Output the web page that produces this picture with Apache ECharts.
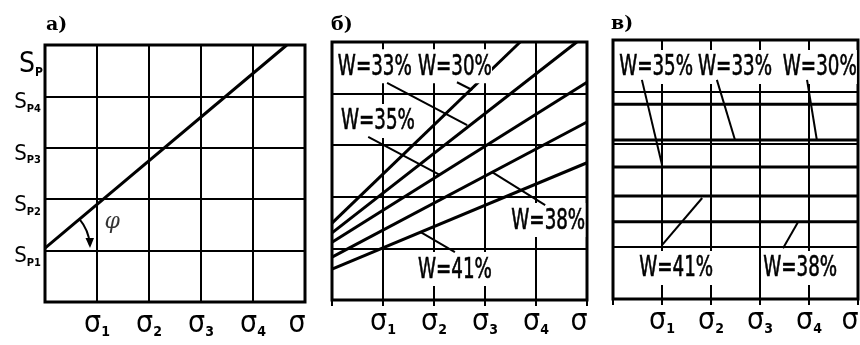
<!DOCTYPE html>
<html><head><meta charset="utf-8">
<script src="https://cdn.jsdelivr.net/npm/echarts@6/dist/echarts.min.js"></script>
<style>html,body{margin:0;padding:0;background:#fff}#c{width:860px;height:345px}</style>
</head><body><div id="c"></div>
<script>
// ---- data ----
const sigmaSubs = ['1', '2', '3', '4'];          // x tick subscripts (σ1..σ4), last tick is plain σ
const spSubs = ['P1', 'P2', 'P3', 'P4'];         // y tick subscripts (S_P1..S_P4)
// panel a: single line S_P(σ)
const aLine = [[0, 1.05], [4.65, 5]];
const aPhiPos = [1.29, 1.56];
// panel б: five moisture lines
const bW30 = [[0, 1.49], [3.69, 5]];
const bW33 = [[0, 1.30], [4.80, 5]];
const bW35 = [[0, 1.12], [5, 4.22]];
const bW38 = [[0, 0.83], [5, 3.45]];
const bW41 = [[0, 0.60], [5, 2.66]];
const bLabelNames = ['W=33%', 'W=30%', 'W=35%', 'W=38%', 'W=41%'];
const bLabelPos = [[0.84, 4.53], [2.41, 4.53], [0.90, 3.47], [4.24, 1.55], [2.41, 0.60]];
const bLeaders = [[[1.08, 4.21], [2.65, 3.39]], [[2.45, 4.22], [2.75, 4.07]], [[0.71, 3.16], [2.12, 2.42]], [[3.14, 2.48], [4.18, 1.84]], [[1.73, 1.32], [2.41, 0.93]]];
// panel в: horizontal levels
const cW30 = 3.76, cW33 = 3.07, cW35 = 2.55, cW41 = 1.99, cW38 = 1.49;
const cLabelNames = ['W=35%', 'W=33%', 'W=30%', 'W=41%', 'W=38%'];
const cLabelPos = [[0.88, 4.48], [2.49, 4.48], [4.22, 4.48], [1.29, 0.60], [3.82, 0.60]];
const cLeaders = [[[0.59, 4.23], [1.0, 2.59]], [[2.12, 4.23], [2.49, 3.07]], [[3.96, 4.23], [4.16, 3.07]], [[1.0, 1.04], [1.82, 1.95]], [[3.47, 0.98], [3.78, 1.49]]];

// ---- styles ----
const HAND = "'DejaVu Sans Condensed','Liberation Sans',sans-serif";
const sigRich = {
  s: {fontSize: 30, fontFamily: HAND, color: '#000', lineHeight: 30},
  sub: {fontSize: 14, fontFamily: HAND, color: '#000', verticalAlign: 'bottom', lineHeight: 22, fontWeight: 'bold'},
  e: {fontSize: 30, fontFamily: HAND, color: '#000', lineHeight: 30, padding: [0, 16, 0, 0]}
};
const spRich = {
  s: {fontSize: 22, fontFamily: HAND, color: '#000', lineHeight: 24},
  sub: {fontSize: 11, fontFamily: HAND, color: '#000', verticalAlign: 'bottom', lineHeight: 18, fontWeight: 'bold'},
  S: {fontSize: 28, fontFamily: HAND, color: '#000', lineHeight: 28},
  SUB: {fontSize: 12, fontFamily: HAND, color: '#000', verticalAlign: 'bottom', lineHeight: 20, fontWeight: 'bold'}
};
function xFmt(v) {
  const i = Math.round(v);
  if (i >= 1 && i <= sigmaSubs.length) return '{s|σ}{sub|' + sigmaSubs[i - 1] + '}';
  if (i === 5) return '{e|σ}';
  return '';
}
function yFmt(v) {
  const i = Math.round(v);
  if (i >= 1 && i <= spSubs.length) return '{s|S}{sub|' + spSubs[i - 1] + '}';
  return '';
}
const gridLine = {show: true, lineStyle: {color: '#000', width: 2, type: 'solid'}};
function xAxis(gi, ticks) {
  return {type: 'value', gridIndex: gi, min: 0, max: 5, interval: 1,
    axisLine: {show: false}, splitLine: gridLine,
    axisTick: {show: ticks, length: 6, inside: false, lineStyle: {color: '#000', width: 2}},
    axisLabel: {show: true, formatter: xFmt, rich: sigRich, margin: 7, showMinLabel: true, showMaxLabel: true}};
}
function yAxis(gi, labels) {
  const ax = {type: 'value', gridIndex: gi, min: 0, max: 5, interval: 1,
    axisLine: {show: false}, axisTick: {show: false}, splitLine: gridLine,
    axisLabel: {show: labels, formatter: yFmt, rich: spRich, margin: 4, padding: [12, 0, 0, 0]}};
  if (labels) {
    ax.name = '{S|S}{SUB|P}';
    ax.nameLocation = 'end';
    ax.nameGap = -34;
    ax.nameTextStyle = {rich: spRich, align: 'right', padding: [0, 2, 0, 0]};
  }
  return ax;
}
const lineS = (gi, data, w) => ({type: 'line', xAxisIndex: gi, yAxisIndex: gi, data: data,
  showSymbol: false, symbol: 'none', lineStyle: {color: '#000', width: w || 3}, z: 5, animation: false});
const hLine = (gi, v) => lineS(gi, [[0, v], [5, v]], 3);
// handwritten-looking labels: tall, horizontally compressed text on a white patch
const labelS = (gi, names, pos) => ({type: 'custom', xAxisIndex: gi, yAxisIndex: gi, z: 10, animation: false,
  data: pos.map((p, i) => [p[0], p[1], i]),
  renderItem: function (params, api) {
    const p = api.coord([api.value(0), api.value(1)]);
    const txt = names[api.value(2)];
    return {type: 'group', x: p[0], y: p[1], scaleX: 0.7, children: [
      {type: 'rect', shape: {x: -53, y: -17, width: 106, height: 34}, style: {fill: '#fff'}},
      {type: 'text', style: {text: txt, x: 0, y: 1, align: 'center', verticalAlign: 'middle',
        font: 'normal 29px ' + HAND, fill: '#000', stroke: '#000', lineWidth: 0.6}}
    ]};
  }});
const leaderS = (gi, segs) => ({type: 'lines', coordinateSystem: 'cartesian2d', xAxisIndex: gi, yAxisIndex: gi, z: 11,
  data: segs.map(s => ({coords: s})), lineStyle: {color: '#000', width: 2, opacity: 1, curveness: 0}, symbol: 'none', animation: false});
const gridBox = (l, t, w, h) => ({left: l, top: t, width: w, height: h, show: true, borderColor: '#000', borderWidth: 3,
  backgroundColor: 'transparent', containLabel: false, outerBoundsMode: 'none'});

const chart = echarts.init(document.getElementById('c'), null, {renderer: 'canvas'});
chart.setOption({
  animation: false,
  backgroundColor: '#fff',
  title: [
    {text: 'a)', left: 41, top: 11, textStyle: {fontFamily: 'DejaVu Serif', fontWeight: 'bold', fontSize: 19, color: '#000'}},
    {text: 'б)', left: 326, top: 11, textStyle: {fontFamily: 'DejaVu Serif', fontWeight: 'bold', fontSize: 19, color: '#000'}},
    {text: 'в)', left: 606, top: 10, textStyle: {fontFamily: 'DejaVu Serif', fontWeight: 'bold', fontSize: 19, color: '#000'}}
  ],
  grid: [gridBox(45, 45, 260, 257), gridBox(332, 42, 255, 258), gridBox(613, 40, 245, 259)],
  xAxis: [xAxis(0, false), xAxis(1, true), xAxis(2, true)],
  yAxis: [yAxis(0, true), yAxis(1, false), yAxis(2, false)],
  series: [
    lineS(0, aLine, 3),
    {type: 'custom', xAxisIndex: 0, yAxisIndex: 0, z: 6, data: [aLine[0]], animation: false,
      renderItem: function (params, api) {
        const c = api.coord([api.value(0), api.value(1)]);
        const p1 = api.coord(aLine[1]);
        const ang = Math.atan2(p1[1] - c[1], p1[0] - c[0]);
        const r = 45;
        const ex = c[0] + r, ey = c[1];
        return {type: 'group', children: [
          {type: 'arc', shape: {cx: c[0], cy: c[1], r: r, startAngle: ang, endAngle: -0.08, clockwise: true},
            style: {stroke: '#000', lineWidth: 2, fill: null}},
          {type: 'polygon', shape: {points: [[ex, ey], [ex - 4.5, ey - 10], [ex + 4, ey - 10]]}, style: {fill: '#000'}}
        ]};
      }},
    {type: 'scatter', xAxisIndex: 0, yAxisIndex: 0, symbolSize: 0, data: [{name: 'φ', value: aPhiPos}], z: 10,
      label: {show: true, position: 'inside', formatter: p => p.name, fontFamily: 'DejaVu Serif', fontStyle: 'italic', fontSize: 22, color: '#000'}},
    lineS(1, bW30), lineS(1, bW33), lineS(1, bW35), lineS(1, bW38), lineS(1, bW41),
    labelS(1, bLabelNames, bLabelPos), leaderS(1, bLeaders),
    hLine(2, cW30), hLine(2, cW33), hLine(2, cW35), hLine(2, cW41), hLine(2, cW38),
    labelS(2, cLabelNames, cLabelPos), leaderS(2, cLeaders)
  ]
});
</script></body></html>
